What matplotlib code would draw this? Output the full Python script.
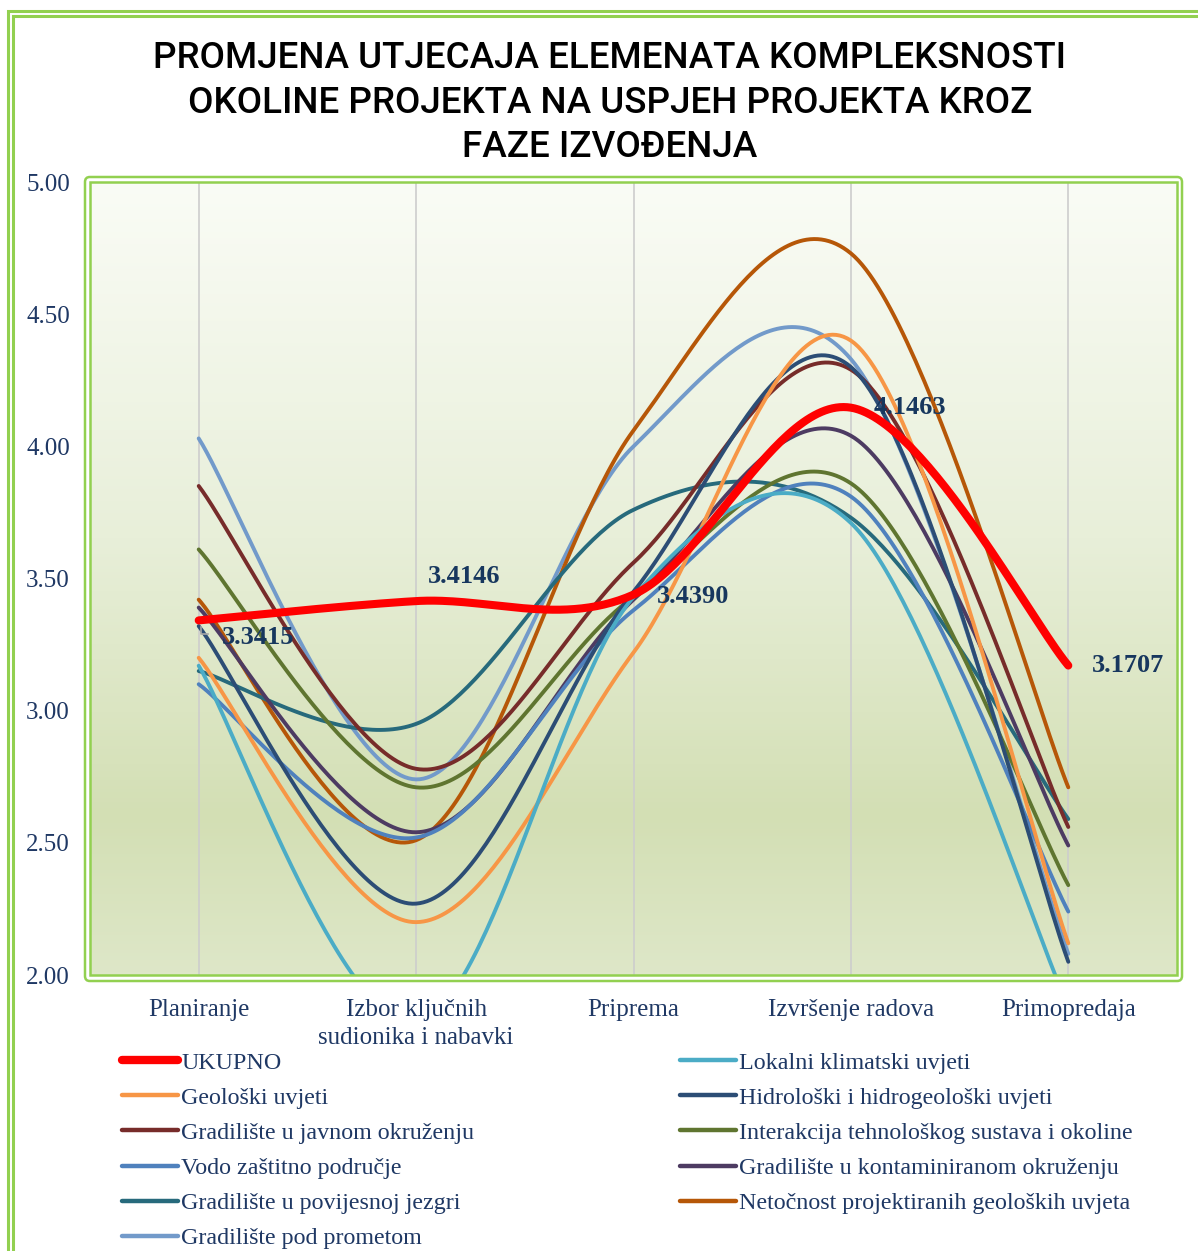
import numpy as np
import matplotlib
matplotlib.use("Agg")
import matplotlib.pyplot as plt
from matplotlib.colors import LinearSegmentedColormap
from matplotlib.patches import Rectangle, FancyBboxPatch
from matplotlib.lines import Line2D

# podaci
faze = ["Planiranje", "Izbor ključnih\nsudionika i nabavki", "Priprema", "Izvršenje radova", "Primopredaja"]

ukupno = [3.3415, 3.4146, 3.4390, 4.1463, 3.1707]
lokalni = [3.17, 1.82, 3.43, 3.71, 1.88]
geoloski = [3.20, 2.20, 3.22, 4.40, 2.12]
hidroloski = [3.32, 2.27, 3.45, 4.30, 2.05]
javnom = [3.85, 2.78, 3.56, 4.29, 2.56]
interakcija = [3.61, 2.71, 3.43, 3.86, 2.34]
vodo = [3.10, 2.52, 3.38, 3.81, 2.24]
kontaminiranom = [3.39, 2.54, 3.42, 4.04, 2.49]
povijesnoj = [3.15, 2.95, 3.76, 3.73, 2.59]
netocnost = [3.42, 2.51, 4.06, 4.73, 2.71]
prometom = [4.03, 2.74, 4.00, 4.33, 2.08]

serije = [
    ("UKUPNO", ukupno, "#FF0000"),
    ("Lokalni klimatski uvjeti", lokalni, "#4BACC6"),
    ("Geološki uvjeti", geoloski, "#F79646"),
    ("Hidrološki i hidrogeološki uvjeti", hidroloski, "#2C4D75"),
    ("Gradilište u javnom okruženju", javnom, "#772C2A"),
    ("Interakcija tehnološkog sustava i okoline", interakcija, "#5F7530"),
    ("Vodo zaštitno područje", vodo, "#4F81BD"),
    ("Gradilište u kontaminiranom okruženju", kontaminiranom, "#4D3B62"),
    ("Gradilište u povijesnoj jezgri", povijesnoj, "#276A7C"),
    ("Netočnost projektiranih geoloških uvjeta", netocnost, "#B65708"),
    ("Gradilište pod prometom", prometom, "#729ACA"),
]

NAVY = "#1F3864"


def smooth(y, n=60):
    # Excel-style smoothing (Catmull-Rom kroz Bezier)
    pts = np.column_stack([np.arange(len(y), dtype=float), np.array(y, dtype=float)])
    out = []
    t = np.linspace(0, 1, n)[:, None]
    for i in range(len(pts) - 1):
        p0 = pts[max(i - 1, 0)]
        p1 = pts[i]
        p2 = pts[i + 1]
        p3 = pts[min(i + 2, len(pts) - 1)]
        c1 = p1 + (p2 - p0) / 6
        c2 = p2 - (p3 - p1) / 6
        seg = (1 - t) ** 3 * p1 + 3 * (1 - t) ** 2 * t * c1 + 3 * (1 - t) * t ** 2 * c2 + t ** 3 * p2
        out.append(seg if i == 0 else seg[1:])
    out = np.vstack(out)
    return out[:, 0], out[:, 1]


fig = plt.figure(figsize=(11.98, 12.51), dpi=100)
W, H = 1198, 1251

# vanjski okvir
for off in (0, 5):
    fig.patches.append(Rectangle(((8 + off) / W, -0.1), 1.2, 1 - (11 + off) / H + 0.1,
                                 transform=fig.transFigure, fill=False,
                                 edgecolor="#92D050", lw=2.2))

left, right, top, bottom = 90, 1177, 182, 975
ax = fig.add_axes([left / W, 1 - bottom / H, (right - left) / W, (bottom - top) / H])

# gradijent pozadine
cmap = LinearSegmentedColormap.from_list("bg", [(0, "#FAFCF6"), (0.45, "#E8EFD9"),
                                                (0.8, "#D3DFB4"), (1, "#DEE7C8")])
grad = np.linspace(0, 1, 256)[:, None]
ax.imshow(grad, cmap=cmap, aspect="auto", extent=[0, 1, 0, 1], transform=ax.transAxes, zorder=0)

# okvir plohe (dvostruka linija)
fig.patches.append(Rectangle((left / W, 1 - bottom / H), (right - left) / W, (bottom - top) / H,
                             transform=fig.transFigure, fill=False, edgecolor="#92D050", lw=1.8, zorder=5))
fig.patches.append(FancyBboxPatch(((left - 5) / W, 1 - (bottom + 6) / H), (right - left + 10) / W,
                                  (bottom - top + 11) / H, boxstyle="round,pad=0,rounding_size=0.004",
                                  transform=fig.transFigure, fill=False, edgecolor="#92D050", lw=1.8, zorder=5))

x = np.arange(len(faze))
for xi in x:
    ax.axvline(xi, color="#CDCDCD", lw=1.2, zorder=1)

for i, (naziv, vals, boja) in reversed(list(enumerate(serije))):
    sx, sy = smooth(vals)
    lw = 5.8 if i == 0 else 2.8
    ax.plot(sx, sy, color=boja, lw=lw, solid_capstyle="round", zorder=3 + (10 if i == 0 else 0))

ax.set_xlim(-0.5, 4.5)
ax.set_ylim(2.0, 5.0)
ax.set_yticks(np.arange(2.0, 5.01, 0.5))
ax.set_yticklabels([f"{v:.2f}" for v in np.arange(2.0, 5.01, 0.5)])
ax.set_xticks(x)
ax.set_xticklabels(faze)
for s in ax.spines.values():
    s.set_visible(False)
ax.tick_params(length=0, labelsize=18, labelcolor=NAVY)
ax.tick_params(axis="y", pad=14.5)
ax.tick_params(axis="x", pad=17)
for lab in ax.get_xticklabels() + ax.get_yticklabels():
    lab.set_fontfamily("Liberation Serif")
    lab.set_linespacing(1.35)

# oznake vrijednosti
offs = [(59, -17), (48, 25), (60, -2), (59, 0), (60, 0)]
for xi, v, (dx, dy) in zip(x, ukupno, offs):
    ax.annotate(f"{v:.4f}", (xi, v), xytext=(dx * 0.72, dy * 0.72), textcoords="offset points",
                ha="center", va="center", fontsize=19, fontweight="bold", color="#17375E",
                family="Liberation Serif", zorder=20)
ax.plot([0.01, 0.01, 0.045], [3.315, 3.29, 3.29], color="#A6A6A6", lw=1.2, zorder=14)

# naslov
fig.text(0.509, 1 - 41 / H, "PROMJENA UTJECAJA ELEMENATA KOMPLEKSNOSTI\nOKOLINE PROJEKTA NA USPJEH PROJEKTA KROZ\nFAZE IZVOĐENJA",
         ha="center", va="top", fontsize=26.6, family="Roboto", fontweight="medium",
         linespacing=1.36, color="black")

# legenda - dva stupca, redoslijed po redovima
def legenda(stavke, xpx):
    hs = [Line2D([], [], color=b, lw=(6.0 if n == "UKUPNO" else 3.2), solid_capstyle="round")
          for n, _, b in stavke]
    lg = fig.legend(hs, [n for n, _, _ in stavke], loc="upper left",
                    bbox_to_anchor=(xpx / W, 1 - 1052 / H), frameon=False,
                    handlelength=2.35, handletextpad=0.12, labelspacing=0.55,
                    borderpad=0, borderaxespad=0,
                    prop={"family": "Liberation Serif", "size": 17.3})
    for t in lg.get_texts():
        t.set_color(NAVY)
    return lg

legenda(serije[0::2], 122)
legenda(serije[1::2], 680)

fig.savefig("out.png", dpi=100, facecolor="white")
